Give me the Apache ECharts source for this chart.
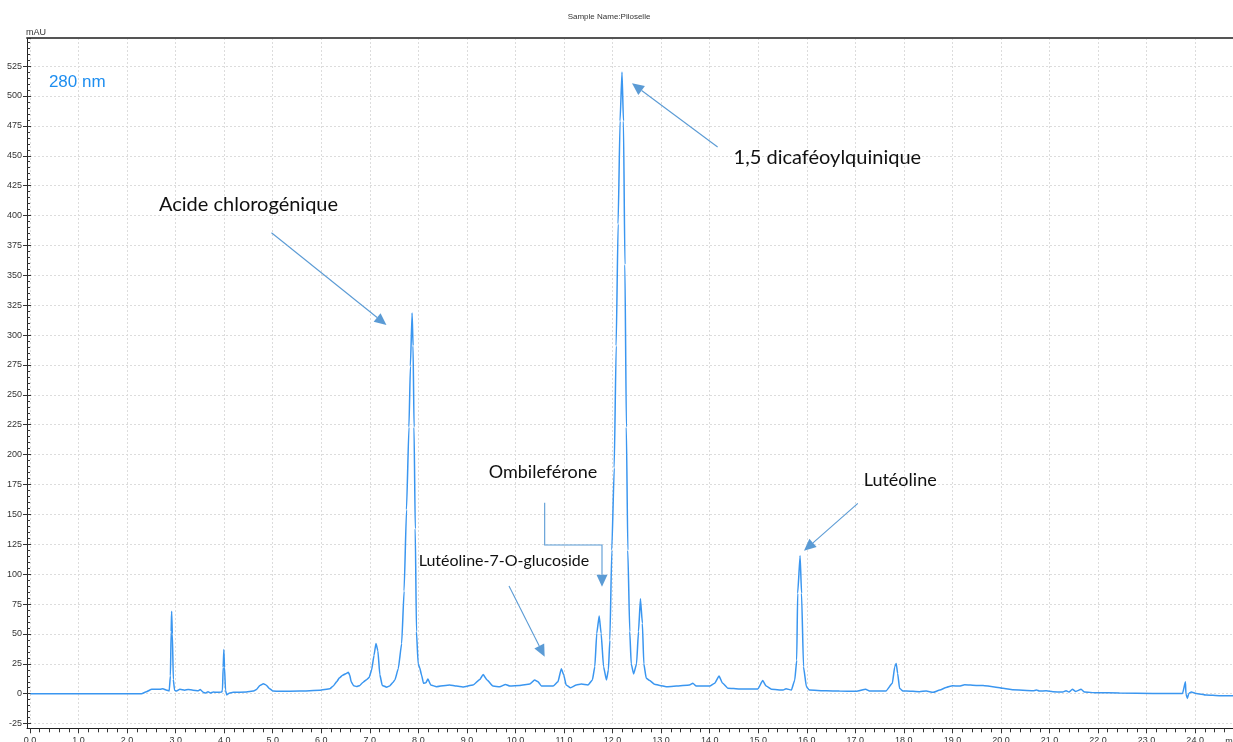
<!DOCTYPE html>
<html><head><meta charset="utf-8">
<script src="https://cdn.jsdelivr.net/npm/echarts@6/dist/echarts.min.js"></script>
<style>html,body{margin:0;padding:0;background:#fff}#c{width:1233px;height:742px}</style>
</head><body><div id="c"></div>
<script>
// Retention time (min)
const times = [0,0.5,1.0,1.5,2.0,2.29,2.39,2.50,2.60,2.67,2.73,2.81,2.86,2.885,2.90,2.91,2.925,2.945,2.97,3.01,3.08,3.18,3.25,3.35,3.46,3.50,3.56,3.61,3.66,3.71,3.77,3.83,3.94,3.958,3.972,3.986,4.00,4.02,4.047,4.095,4.18,4.45,4.59,4.66,4.73,4.80,4.86,4.93,5.00,5.14,5.55,5.96,6.17,6.24,6.31,6.37,6.44,6.51,6.55,6.58,6.61,6.66,6.72,6.79,6.85,6.92,6.98,7.03,7.08,7.12,7.16,7.20,7.25,7.34,7.40,7.47,7.51,7.58,7.65,7.70,7.75,7.80,7.83,7.865,7.885,7.905,7.93,7.955,7.99,8.02,8.06,8.10,8.15,8.19,8.25,8.37,8.64,8.78,8.91,9.12,9.26,9.33,9.41,9.53,9.67,9.79,9.88,10.08,10.29,10.39,10.46,10.53,10.77,10.87,10.94,10.99,11.04,11.13,11.25,11.35,11.49,11.58,11.63,11.67,11.72,11.76,11.81,11.87,11.91,11.94,11.98,12.03,12.07,12.11,12.15,12.19,12.22,12.25,12.28,12.31,12.35,12.38,12.43,12.49,12.53,12.57,12.61,12.64,12.69,12.76,12.86,12.97,13.1,13.31,13.58,13.65,13.72,14.0,14.1,14.19,14.26,14.37,14.61,14.99,15.09,15.16,15.27,15.51,15.57,15.68,15.75,15.79,15.81,15.86,15.89,15.93,15.99,16.05,16.4,16.67,17.02,17.21,17.29,17.63,17.76,17.81,17.84,17.87,17.91,17.98,18.05,18.32,18.46,18.6,18.74,18.87,19.0,19.14,19.25,19.49,19.63,19.83,20.04,20.24,20.66,20.73,20.79,20.93,21.07,21.27,21.34,21.4,21.47,21.54,21.65,21.72,21.96,22.44,23.13,23.74,23.80,23.81,23.84,23.87,23.92,24.02,24.23,24.5,24.78];
// Absorbance (mAU)
const absorbance = [0,0,0,0,0,0,1.7,3.7,3.7,3.8,4.2,3.0,2.4,15,52,69,50,12,3,2.2,3.7,3.0,3.6,3.0,2.5,3.6,1.2,0.6,1.7,0.6,1.4,1.2,1.4,3,22,37,22,3,-1,0.5,1.2,1.5,2.2,3.6,7,8.4,7.2,4.2,2.2,2.0,2.2,3.0,4.2,6.4,10,13.4,15.6,17,18,15.6,10,6.7,6,7,9.5,11.5,13.6,19.8,32,42,36,16,7,5.5,6.4,9.5,11.5,21,42,86,154,223,274,318.5,291,223,138,52,25,22,15.6,8.7,9.2,12.3,7.3,5.9,7.3,6.4,5.6,7.3,12,16,11.5,6.4,5.9,7.8,6.4,7,8.1,11.5,10,6.4,6.4,10,21,15.6,7.3,5,7.3,8.1,7.3,11.5,22.6,50.5,65,50.5,22.6,11.5,20,45,120,189,291,393,479,520,479,359,223,120,52,25,16.5,25,52,79.4,59,25,13,11,8,7,5.9,6.4,7.3,8.7,6.4,6.4,8.7,14.8,8.9,4.7,4,4,11,6.4,3.7,3.1,4.2,3.1,11.5,28,84,115.5,84,22.6,5.9,3.1,2.5,2.3,2.0,3.7,2.3,2.3,8.7,22.6,25.4,17,4.5,2.3,2.3,1.7,2.3,1.2,3.1,5.3,6.7,6.4,7.5,7,7,5.9,4.5,3.3,2.5,3.1,2.3,2.5,1.7,1.4,2.5,1.4,3.7,1.9,3.7,1.4,0.9,0.6,0.3,0.3,10,0,-3.9,0.3,1.4,0.3,-1.1,-1.6,-1.6];

// Axis ranges and tick steps
const xRange = [-0.07, 24.78];
const yRange = [-28.9, 548.5];
const xTickStep = 1;
const yTickStep = 25;
const yTickStart = -25;

// Annotation texts (anchored in data coordinates)
const labelTexts = ['Acide chlorogénique', '1,5 dicaféoylquinique', 'Ombileférone', 'Lutéoline', 'Lutéoline-7-O-glucoside'];
const labelAnchors = [[2.649, 408.8], [14.49, 448.1], [9.444, 185.5], [17.17, 178.8], [8.0, 111]];
const labelSizes = [20, 20, 18, 18, 16];
// Arrow paths (data coordinates), last point is the arrow tip
const arrowPaths = [
  [[4.968, 385.6], [7.337, 308.4]],
  [[14.16, 457.3], [12.396, 510.6]],
  [[9.862, 90.1], [10.597, 31.0]],
  [[10.597, 159.8], [10.597, 124.4], [11.778, 124.4], [11.778, 89.5]],
  [[17.05, 159.3], [15.94, 119.6]]
];

const chart = echarts.init(document.getElementById('c'), null, {renderer: 'canvas'});
const seriesData = times.map((t, i) => [t, absorbance[i]]);
const gridLine = {show: true, lineStyle: {color: '#dcdcdc', type: [2, 2], width: 1}};
const font = 'Liberation Sans, Arial, sans-serif';

chart.setOption({
  animation: false,
  backgroundColor: '#fff',
  grid: [
    {left: 27, right: 0, top: 38, bottom: 13.7, containLabel: false, outerBoundsMode: 'none'},
    {left: 30, right: 0, top: 38, bottom: 18.4, containLabel: false, outerBoundsMode: 'none'}
  ],
  xAxis: [
    {type: 'value', gridIndex: 0, min: xRange[0], max: xRange[1], position: 'bottom',
     axisLine: {show: true, onZero: false, lineStyle: {color: '#222', width: 1}}, axisTick: {show: false}, axisLabel: {show: false}, splitLine: {show: false}},
    {type: 'value', gridIndex: 0, min: xRange[0], max: xRange[1], position: 'top',
     axisLine: {show: true, onZero: false, lineStyle: {color: '#555', width: 2}}, axisTick: {show: false}, axisLabel: {show: false}, splitLine: {show: false}},
    {type: 'value', gridIndex: 1, min: 0, max: xRange[1], interval: xTickStep, position: 'bottom', offset: 4.7,
     axisLine: {show: false, onZero: false}, axisTick: {show: true, length: 5, lineStyle: {color: '#333'}},
     minorTick: {show: true, splitNumber: 5, length: 4, lineStyle: {color: '#333'}},
     axisLabel: {show: true, fontSize: 9, color: '#333', margin: 7.5, fontFamily: font, showMaxLabel: false,
       formatter: v => v.toFixed(1)},
     splitLine: gridLine}
  ],
  yAxis: [
    {type: 'value', gridIndex: 0, min: yRange[0], max: yRange[1],
     axisLine: {show: true, onZero: false, lineStyle: {color: '#222', width: 1}}, axisTick: {show: false}, axisLabel: {show: false}, splitLine: {show: false}},
    {type: 'value', gridIndex: 1, min: yTickStart, max: yRange[1], interval: yTickStep, position: 'left', offset: 3,
     axisLine: {show: false, onZero: false}, axisTick: {show: true, length: 4, lineStyle: {color: '#333'}},
     axisLabel: {show: true, fontSize: 9, color: '#333', margin: 5, fontFamily: font, showMaxLabel: false},
     splitLine: gridLine},
    {type: 'value', gridIndex: 1, min: yTickStart, max: yRange[1], interval: yTickStep, position: 'left', offset: 3,
     axisLine: {show: false, onZero: false}, axisTick: {show: true, inside: true, length: 4, lineStyle: {color: '#333'}},
     minorTick: {show: true, splitNumber: 5, length: 3, lineStyle: {color: '#333'}},
     axisLabel: {show: false}, splitLine: {show: false}}
  ],
  series: [{
    type: 'line', xAxisIndex: 0, yAxisIndex: 0, data: seriesData, showSymbol: false, symbol: 'none',
    smooth: 0.15, smoothMonotone: 'x',
    lineStyle: {color: '#3a96f0', width: 1.5}, z: 5
  }]
});

function px(p) { return chart.convertToPixel({xAxisIndex: 0, yAxisIndex: 0}, p); }
const graphics = [];
const arrowColor = '#5b9bd5';
arrowPaths.forEach(path => {
  const pts = path.map(px);
  const tip = pts[pts.length - 1], prev = pts[pts.length - 2];
  const dx = tip[0] - prev[0], dy = tip[1] - prev[1];
  const len = Math.hypot(dx, dy); const ux = dx / len, uy = dy / len;
  const hl = 12, hw = 5.5;
  const base = [tip[0] - ux * hl, tip[1] - uy * hl];
  const linePts = pts.slice(0, -1).concat([base]);
  graphics.push({type: 'polyline', shape: {points: linePts}, style: {stroke: arrowColor, lineWidth: 1.1, fill: null}, z: 10});
  graphics.push({type: 'polygon', shape: {points: [tip, [base[0] - uy * hw, base[1] + ux * hw], [base[0] + uy * hw, base[1] - ux * hw]]},
    style: {fill: arrowColor, stroke: null}, z: 10});
});
labelTexts.forEach((t, i) => {
  const p = px(labelAnchors[i]);
  graphics.push({type: 'text', x: p[0], y: p[1], style: {text: t, fill: '#111', fontSize: labelSizes[i], fontFamily: 'Lato, sans-serif', align: 'left', verticalAlign: 'middle'}, z: 11});
});
const nm = px([0.381, 511.7]);
graphics.push({type: 'text', x: nm[0], y: nm[1], style: {text: '280 nm', fill: '#1e8ef0', fontSize: 17, fontFamily: font, align: 'left', verticalAlign: 'middle'}, z: 11});
const mau = px([-0.05, yRange[1]]);
graphics.push({type: 'text', x: mau[0] - 2, y: mau[1] - 5, style: {text: 'mAU', fill: '#333', fontSize: 9, fontFamily: font, align: 'left', verticalAlign: 'middle'}, z: 11});
const mn = px([24.62, yRange[0]]);
graphics.push({type: 'text', x: mn[0], y: mn[1] + 13, style: {text: 'min', fill: '#333', fontSize: 9, fontFamily: font, align: 'left', verticalAlign: 'middle'}, z: 11});
graphics.push({type: 'text', x: 609, y: 17, style: {text: 'Sample Name:Piloselle', fill: '#333', fontSize: 8, fontFamily: font, align: 'center', verticalAlign: 'middle'}, z: 11});
chart.setOption({graphic: graphics});
</script>
</body></html>
